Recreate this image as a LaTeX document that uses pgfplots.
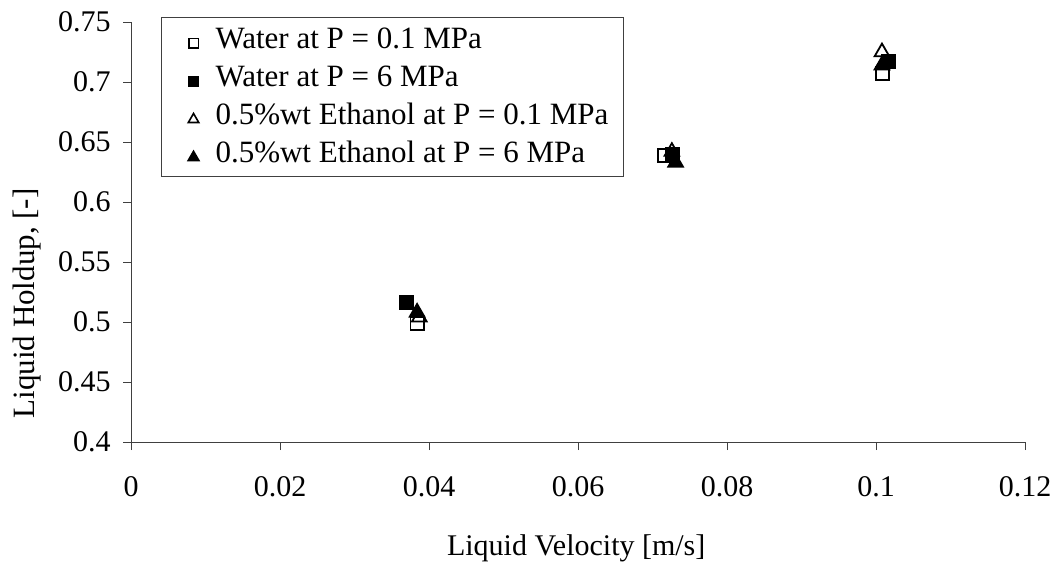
\documentclass[border=0pt]{standalone}
\usepackage{pgfplots}
\pgfplotsset{compat=1.18}
\usepackage{fontspec}
\setmainfont{Liberation Serif}

% liquid holdup versus superficial liquid velocity
\pgfplotstableread{
x       y
0.0384  0.499
0.0716  0.639
0.1009  0.707
}\waterlow
\pgfplotstableread{
x       y
0.0370  0.516
0.0727  0.640
0.1017  0.717
}\waterhigh
\pgfplotstableread{
x       y
0.0387  0.504
0.0726  0.642
0.1008  0.725
}\ethlow
\pgfplotstableread{
x       y
0.0384  0.508
0.0731  0.633
0.1008  0.714
}\ethhigh

\begin{document}
\fontsize{15pt}{18pt}\selectfont
\begin{tikzpicture}
\begin{axis}[
  scale only axis,
  width=447pt, height=210pt,
  xmin=0, xmax=0.12, ymin=0.4, ymax=0.75,
  xtick={0,0.02,0.04,0.06,0.08,0.1,0.12},
  ytick={0.4,0.45,0.5,0.55,0.6,0.65,0.7,0.75},
  scaled ticks=false,
  /pgf/number format/assume math mode=true,
  /pgf/number format/fixed,
  /pgf/number format/precision=2,
  axis x line=bottom, axis y line=left,
  axis line style={-, black!75, line width=0.5pt},
  tick style={black!75, line width=0.5pt},
  tick align=outside, major tick length=4pt,
  ticklabel style={font=\fontsize{15pt}{18pt}\selectfont},
  xticklabel style={yshift=-8pt},
  yticklabel style={xshift=-1pt},
  xlabel={Liquid Velocity [m/s]},
  ylabel={Liquid Holdup, [-]},
  xlabel style={font=\fontsize{15pt}{18pt}\selectfont,
    at={(axis description cs:0.498,-0.252)}, anchor=center},
  ylabel style={font=\fontsize{15.5pt}{18pt}\selectfont,
    at={(axis description cs:-0.1163,0.33)}, anchor=center},
  clip=false,
  legend style={
    at={(axis description cs:0.0336,1.012)}, anchor=north west,
    draw=black!75, line width=0.5pt,
    font=\fontsize{15.5pt}{18pt}\selectfont,
    inner xsep=7.5pt, inner ysep=3pt,
    row sep=2.5pt, column sep=8pt,
    nodes={inner sep=0pt, text height=12.5pt, text depth=4pt},
  },
  legend cell align=left,
  legend image code/.code={
    \path[draw=none, fill=none] (-8.5pt,-1pt) rectangle (3pt,1pt);
    \draw[only marks,#1] plot coordinates {(0pt,-1.75pt)};
  },
]
\addplot[only marks, mark=square, mark size=3.3pt, line width=0.9pt,
  legend image post style={mark size=2.4pt, line width=0.8pt}]
  table {\waterlow};
\addlegendentry{Water at P = 0.1 MPa}
\addplot[only marks, mark=square*, mark size=3.3pt, line width=0.9pt,
  legend image post style={mark size=2.4pt}]
  table {\waterhigh};
\addlegendentry{Water at P = 6 MPa}
\addplot[only marks, mark=triangle, mark size=4.2pt, line width=0.9pt,
  legend image post style={mark size=3pt, line width=0.8pt}]
  table {\ethlow};
\addlegendentry{0.5\%wt Ethanol at P = 0.1 MPa}
\addplot[only marks, mark=triangle*, mark size=4.2pt, line width=0.9pt,
  legend image post style={mark size=3pt}]
  table {\ethhigh};
\addlegendentry{0.5\%wt Ethanol at P = 6 MPa}
\end{axis}
\pgfresetboundingbox
\path (-65.5pt,-60.5pt) rectangle (463.5pt,221pt);
\end{tikzpicture}
\end{document}
